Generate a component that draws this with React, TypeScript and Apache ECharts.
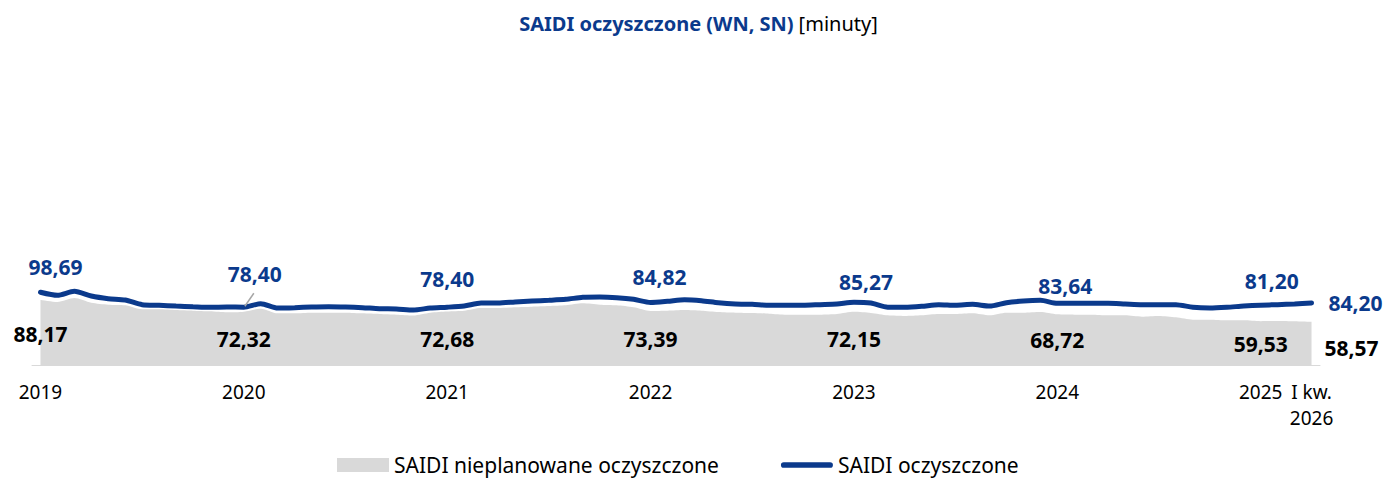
import React, { useEffect, useRef } from "react";
import * as echarts from "echarts";

const BLUE = "#0b3a8c";
const GRAY = "#d9d9d9";
const FONT = "'Noto Sans', sans-serif";

const seriesNames = ["SAIDI nieplanowane oczyszczone", "SAIDI oczyszczone"];

// monthly categories: 12.2019 ... 03.2026
const categories: string[] = [];
for (let y = 2019; y <= 2026; y++) {
  for (let m = 1; m <= 12; m++) {
    if ((y === 2019 && m < 12) || (y === 2026 && m > 3)) continue;
    categories.push(String(m).padStart(2, "0") + "." + y);
  }
}

const tickIndex = [0, 12, 24, 36, 48, 60, 72, 75];
const tickLabels = ["2019", "2020", "2021", "2022", "2023", "2024", "2025", "I kw.\n2026"];

// SAIDI oczyszczone (line)
const saidi = [
  98.69, 94.5, 100.0, 93.6, 90.0, 88.2, 81.8, 81.0, 80.0, 79.1, 78.3, 78.7,
  78.4, 83.2, 77.3, 77.8, 78.7, 79.1, 78.7, 77.8, 76.4, 76.0, 74.6, 77.3,
  78.4, 80.1, 84.1, 84.1, 85.5, 86.8, 87.8, 89.1, 91.9, 92.3, 91.4, 89.1,
  84.82, 86.4, 88.6, 87.3, 84.5, 82.8, 82.3, 81.0, 81.0, 81.0, 81.9, 82.8,
  85.27, 84.1, 78.3, 78.3, 79.6, 81.9, 81.0, 82.3, 80.0, 84.5, 86.8, 87.7,
  83.64, 83.7, 83.7, 83.7, 82.8, 81.9, 81.9, 81.9, 78.3, 77.3, 78.3, 80.0,
  81.2, 81.9, 82.8, 84.2,
];

// SAIDI nieplanowane oczyszczone (area)
const saidiUnplanned = [
  88.17, 85.5, 90.9, 84.5, 81.9, 81.0, 75.6, 75.6, 74.6, 73.7, 72.8, 71.5,
  72.32, 76.4, 70.1, 70.1, 71.0, 71.0, 71.0, 70.1, 69.2, 68.3, 67.3, 71.0,
  72.68, 73.7, 77.3, 77.3, 78.3, 79.1, 80.0, 81.0, 83.7, 81.9, 81.0, 78.3,
  73.39, 73.7, 74.6, 73.7, 71.9, 71.0, 70.6, 69.6, 68.3, 68.3, 68.3, 69.2,
  72.15, 70.6, 67.4, 66.5, 67.4, 69.2, 69.2, 70.1, 67.4, 71.0, 71.0, 71.9,
  68.72, 68.3, 68.3, 67.4, 67.4, 65.6, 66.5, 64.7, 61.5, 61.5, 60.6, 60.6,
  59.53, 59.7, 59.3, 58.57,
];

// label layout (offsets from the data point, px)
const lineLabelOffsets: [number, number][] = [
  [15, -25], [11, -33], [0, -28], [9, -25], [12, -20], [8, -17], [11, -24], [44, 0],
];
const areaLabelOffsets: [number, number][] = [
  [0, 34], [0, 27], [0, 28], [0, 28], [0, 27], [0, 26], [0, 23], [40, 26],
];

const fmt = (v: number) => v.toFixed(2).replace(".", ",");

function buildData(values: number[], offsets: [number, number][], color: string) {
  return values.map((v, i) => {
    const k = tickIndex.indexOf(i);
    if (k < 0) return v;
    return {
      value: v,
      label: {
        show: true,
        position: "inside",
        offset: offsets[k],
        formatter: () => fmt(v),
        color,
        fontSize: 21,
        fontWeight: "bold",
        fontFamily: FONT,
      },
    };
  });
}

export default function App() {
  const ref = useRef<HTMLDivElement>(null);
  useEffect(() => {
    if (!ref.current) return;
    const chart = echarts.init(ref.current, undefined, { renderer: "svg" });
    chart.setOption({
      animation: false,
      title: {
        left: "center",
        top: 8,
        text: "{b|SAIDI oczyszczone (WN, SN)} {n|[minuty]}",
        textStyle: {
          rich: {
            b: { fontWeight: "bold", color: BLUE, fontSize: 20, fontFamily: FONT },
            n: { fontWeight: "normal", color: "#000", fontSize: 20, fontFamily: FONT },
          },
        },
      },
      legend: {
        left: 337,
        top: 451,
        padding: 0,
        itemWidth: 52,
        itemHeight: 14,
        itemGap: 62,
        textStyle: { fontSize: 21, color: "#000", fontFamily: FONT, lineHeight: 28 },
        data: [
          { name: seriesNames[0], icon: "rect", itemStyle: { color: GRAY } },
          {
            name: seriesNames[1],
            icon: "path://M3,0H52A3,3,0,0,1,52,6H3A3,3,0,0,1,3,0Z",
            itemStyle: { color: BLUE },
          },
        ],
      },
      grid: { left: 32, right: 77, top: 217.6, bottom: 113 },
      xAxis: {
        type: "category",
        data: categories,
        boundaryGap: true,
        axisLine: { lineStyle: { color: GRAY, width: 1 } },
        axisTick: { show: false },
        axisLabel: {
          interval: (index: number) => tickIndex.indexOf(index) >= 0,
          formatter: (_v: string, index: number) => {
            const k = tickIndex.indexOf(index);
            return k >= 0 ? tickLabels[k] : "";
          },
          color: "#000",
          fontSize: 19,
          fontFamily: FONT,
          lineHeight: 26,
          margin: 14,
        },
      },
      yAxis: { type: "value", min: 0, max: 200, show: false, splitLine: { show: false } },
      series: [
        {
          name: seriesNames[0],
          type: "line",
          data: buildData(saidiUnplanned, areaLabelOffsets, "#000"),
          color: GRAY,
          smooth: 0.25,
          symbol: "circle",
          symbolSize: 0.1,
          showSymbol: true,
          lineStyle: { width: 0, color: GRAY },
          itemStyle: { color: GRAY },
          areaStyle: { color: GRAY, opacity: 1 },
          z: 1,
        },
        {
          name: seriesNames[1],
          type: "line",
          data: buildData(saidi, lineLabelOffsets, BLUE),
          color: BLUE,
          smooth: 0.25,
          symbol: "circle",
          symbolSize: 0.1,
          showSymbol: true,
          lineStyle: { width: 5, color: BLUE, cap: "round" },
          itemStyle: { color: BLUE },
          z: 3,
        },
      ],
    });
    // leader line for the 2020 label
    const p = chart.convertToPixel({ seriesIndex: 1 }, [12, saidi[12]]) as number[];
    if (p) {
      chart.setOption({
        graphic: [
          {
            type: "line",
            shape: { x1: p[0] + 1, y1: p[1] - 1, x2: p[0] + 10, y2: p[1] - 14 },
            style: { stroke: "#a6a6a6", lineWidth: 1.5 },
            z: 10,
          },
        ],
      });
    }
    return () => chart.dispose();
  }, []);
  return (
    <div
      ref={ref}
      style={{ position: "fixed", left: 0, top: 0, width: 1397, height: 478, background: "#fff" }}
    />
  );
}
